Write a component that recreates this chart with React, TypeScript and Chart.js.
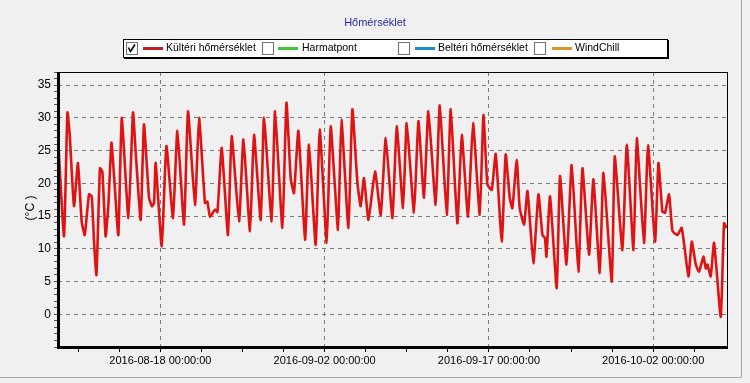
import React, { useEffect, useRef } from "react";
import { Chart, registerables } from "chart.js";

Chart.register(...registerables);

// Time of each reading, in days since 2016-08-18 00:00:00
const dayOffsets = [
  -9.30, -8.80, -8.49, -8.28, -7.89, -7.53, -7.19, -6.91, -6.52, -6.27,
  -6.06, -5.84, -5.52, -5.30, -5.00, -4.75, -4.47, -4.24, -3.84, -3.53,
  -2.92, -2.50, -2.26, -1.80, -1.50, -1.04, -0.77, -0.58, -0.43, 0.12,
  0.55, 1.15, 1.55, 2.16, 2.52, 3.16, 3.53, 4.07, 4.29, 4.53,
  4.99, 5.21, 5.60, 6.17, 6.51, 7.18, 7.58, 8.18, 8.55, 9.16,
  9.46, 10.16, 10.47, 11.14, 11.51, 11.90, 12.20, 12.60, 13.21, 13.57,
  14.18, 14.55, 15.19, 15.55, 16.22, 16.53, 17.17, 17.53, 17.99, 18.29,
  18.59, 19.00, 19.60, 20.12, 20.58, 21.19, 21.58, 22.16, 22.49, 23.16,
  23.56, 24.07, 24.47, 25.14, 25.51, 26.15, 26.51, 27.12, 27.52, 28.09,
  28.55, 29.16, 29.50, 29.86, 30.26, 30.62, 31.17, 31.53, 31.90, 32.14,
  32.54, 32.81, 33.21, 33.52, 34.06, 34.52, 34.89, 35.12, 35.25, 35.58,
  36.19, 36.49, 37.08, 37.56, 38.17, 38.54, 39.14, 39.54, 40.12, 40.46,
  41.22, 41.49, 42.19, 42.59, 43.20, 43.50, 44.16, 44.53, 45.17, 45.48,
  45.84, 46.08, 46.45, 46.76, 47.21, 47.61, 48.22, 48.52, 48.89, 49.19,
  49.59, 49.80, 49.95, 50.25, 50.56, 51.17, 51.47, 51.69,
];

// Outdoor temperature (°C)
const outdoorTemps = [
  25.4, 11.9, 30.8, 27.4, 16.5, 23.1, 14.2, 12.1, 18.3, 18.0,
  11.1, 6.0, 22.3, 21.8, 11.9, 16.7, 26.2, 21.3, 12.1, 30.0,
  14.7, 30.8, 24.9, 14.4, 29.0, 17.8, 16.5, 17.0, 23.1, 10.4,
  25.7, 14.7, 28.0, 13.7, 31.0, 16.7, 30.0, 17.0, 17.2, 14.9,
  16.0, 15.6, 25.4, 12.1, 27.2, 14.2, 26.7, 12.7, 27.4, 14.4,
  30.0, 14.2, 31.0, 13.2, 32.3, 20.8, 18.5, 28.0, 11.4, 25.9,
  10.6, 28.2, 10.9, 28.7, 12.9, 29.7, 13.2, 31.3, 20.1, 16.5,
  20.8, 14.4, 21.8, 15.2, 26.9, 14.7, 28.7, 16.2, 29.2, 15.5,
  29.5, 17.8, 31.0, 16.7, 31.9, 15.2, 31.3, 13.9, 27.4, 14.9,
  29.2, 15.2, 30.4, 19.8, 19.0, 24.5, 11.1, 24.4, 17.8, 16.2,
  23.6, 16.2, 13.7, 18.8, 7.8, 18.3, 12.1, 11.6, 8.8, 18.0,
  4.0, 21.1, 7.6, 22.8, 6.5, 22.3, 9.1, 20.6, 6.3, 21.6,
  5.0, 24.1, 9.8, 25.9, 9.8, 26.9, 10.9, 25.8, 11.1, 23.1,
  15.7, 15.5, 18.3, 12.7, 12.1, 13.2, 5.8, 11.1, 7.6, 6.5,
  8.8, 7.0, 7.6, 5.8, 10.9, -0.4, 13.9, 13.2,
];

const chartTitle = "Hőmérséklet";
const yAxisTitle = "(°C )";
const legendLabels = ["Kültéri hőmérséklet", "Harmatpont", "Beltéri hőmérséklet", "WindChill"];
const legendColors = ["#c41e1e", "#3cc83c", "#1e8cc8", "#d8962a"];
const legendChecked = [true, false, false, false];

const baseDateUTC = Date.UTC(2016, 7, 18);
const xMin = -9.35;
const xMax = 51.74;
const xMinorStep = 3.75;
const xMajorStep = 15;
const yMin = -5;
const yMax = 37;
const yLabelMin = 0;
const yLabelMax = 35;
const yMajorStep = 5;

const FONT = "'Liberation Sans', Arial, sans-serif";

function pad(n: number) {
  return n < 10 ? "0" + n : "" + n;
}
function fmtDate(dayOff: number) {
  const d = new Date(baseDateUTC + Math.round(dayOff * 86400000));
  return (
    d.getUTCFullYear() + "-" + pad(d.getUTCMonth() + 1) + "-" + pad(d.getUTCDate()) +
    " " + pad(d.getUTCHours()) + ":" + pad(d.getUTCMinutes()) + ":" + pad(d.getUTCSeconds())
  );
}
function isXMajor(v: number) {
  return Math.abs(v / xMajorStep - Math.round(v / xMajorStep)) < 1e-6;
}
function isYMajor(v: number) {
  return v % yMajorStep === 0 && v >= yLabelMin && v <= yLabelMax;
}

const decorPlugin = {
  id: "decor",
  beforeDraw(chart: any) {
    const ctx = chart.ctx;
    ctx.save();
    ctx.fillStyle = "#f0f0f0";
    ctx.fillRect(0, 0, chart.width, chart.height);
    ctx.strokeStyle = "#a8a8a8";
    ctx.lineWidth = 1;
    ctx.beginPath();
    ctx.moveTo(741.5, 0);
    ctx.lineTo(741.5, 377.5);
    ctx.lineTo(0, 377.5);
    ctx.stroke();
    ctx.restore();
  },
  afterDraw(chart: any) {
    const ctx = chart.ctx;
    const a = chart.chartArea;
    ctx.save();
    // plot frame
    ctx.strokeStyle = "#000";
    ctx.lineWidth = 1;
    ctx.strokeRect(a.left + 0.5, a.top + 0.5, a.right - a.left, a.bottom - a.top);
    ctx.fillStyle = "#000";
    ctx.fillRect(a.left - 1, a.top, 3, a.bottom - a.top + 2);
    ctx.fillRect(a.left - 1, a.bottom - 1, a.right - a.left + 2, 3);

    // title
    ctx.fillStyle = "#2828b4";
    ctx.font = "11px " + FONT;
    ctx.textAlign = "center";
    ctx.textBaseline = "middle";
    ctx.fillText(chartTitle, 375, 23);

    // y axis title
    ctx.save();
    ctx.translate(31, 208);
    ctx.rotate(-Math.PI / 2);
    ctx.fillStyle = "#000";
    ctx.font = "12px " + FONT;
    ctx.fillText(yAxisTitle, 0, 0);
    ctx.restore();

    // legend box
    const bx = 123, by = 39, bw = 544, bh = 18;
    ctx.fillStyle = "#fff";
    ctx.fillRect(bx, by, bw, bh);
    ctx.strokeStyle = "#000";
    ctx.lineWidth = 1;
    ctx.strokeRect(bx + 0.5, by + 0.5, bw, bh);
    ctx.fillStyle = "#000";
    ctx.fillRect(bx + bw, by + 1, 2, bh + 1);
    ctx.fillRect(bx + 1, by + bh, bw + 1, 2);

    const boxX = [126, 262, 398, 534];
    const lineX = [143, 278, 415, 552];
    const textX = [166, 302, 438, 575];
    const cy = 48.5;
    ctx.font = "10.5px " + FONT;
    ctx.textAlign = "left";
    ctx.textBaseline = "middle";
    for (let i = 0; i < legendLabels.length; i++) {
      ctx.fillStyle = "#fff";
      ctx.fillRect(boxX[i], 42, 11, 12);
      ctx.strokeStyle = "#707070";
      ctx.lineWidth = 1;
      ctx.strokeRect(boxX[i] + 0.5, 42.5, 11, 12);
      if (legendChecked[i]) {
        ctx.strokeStyle = "#000";
        ctx.lineWidth = 1.6;
        ctx.beginPath();
        ctx.moveTo(boxX[i] + 2.5, 47.5);
        ctx.lineTo(boxX[i] + 4.5, 51.5);
        ctx.lineTo(boxX[i] + 9, 44.5);
        ctx.stroke();
      }
      ctx.strokeStyle = legendColors[i];
      ctx.lineWidth = 3;
      ctx.beginPath();
      ctx.moveTo(lineX[i], cy);
      ctx.lineTo(lineX[i] + 20, cy);
      ctx.stroke();
      ctx.fillStyle = "#000";
      ctx.fillText(legendLabels[i], textX[i], cy);
    }
    ctx.restore();
  },
};

export default function App() {
  const ref = useRef<HTMLCanvasElement>(null);
  useEffect(() => {
    const points = dayOffsets.map((d, i) => ({ x: d, y: outdoorTemps[i] }));
    const chart = new Chart(ref.current as HTMLCanvasElement, {
      type: "line",
      data: {
        datasets: [
          {
            label: legendLabels[0],
            data: points,
            borderColor: "#de1414",
            borderWidth: 2.6,
            pointRadius: 0,
            tension: 0.15,
            fill: false,
          },
        ],
      },
      options: {
        animation: false,
        responsive: false,
        devicePixelRatio: 1,
        layout: { padding: { top: 72, right: 23, left: 0, bottom: 0 } },
        plugins: {
          legend: { display: false },
          title: { display: false },
          tooltip: { enabled: false },
        },
        scales: {
          x: {
            type: "linear",
            min: xMin,
            max: xMax,
            afterFit(scale: any) {
              scale.height = 36;
            },
            afterBuildTicks(scale: any) {
              const ticks = [];
              const start = Math.ceil(xMin / xMinorStep) * xMinorStep;
              for (let v = start; v <= xMax + 1e-9; v += xMinorStep) ticks.push({ value: +v.toFixed(4) });
              scale.ticks = ticks;
            },
            ticks: {
              autoSkip: false,
              maxRotation: 0,
              minRotation: 0,
              padding: 2,
              color: "#000",
              font: { family: FONT, size: 11 },
              callback: (v: any) => (isXMajor(Number(v)) ? fmtDate(Number(v)) : ""),
            },
            grid: {
              color: (c: any) => (c.tick && isXMajor(c.tick.value) ? "#7a7a7a" : "rgba(0,0,0,0)"),
              lineWidth: 1,
              tickColor: "#000",
              tickLength: 5,
              tickBorderDash: [],
            },
            border: { display: false, dash: [4, 4] },
          },
          y: {
            type: "linear",
            min: yMin,
            max: yMax,
            afterFit(scale: any) {
              scale.width = 58;
            },
            afterBuildTicks(scale: any) {
              const ticks = [];
              for (let v = yMin; v <= yMax; v += 1) ticks.push({ value: v });
              scale.ticks = ticks;
            },
            ticks: {
              autoSkip: false,
              padding: 3,
              color: "#000",
              font: { family: FONT, size: 12 },
              callback: (v: any) => (isYMajor(Number(v)) ? String(v) : ""),
            },
            grid: {
              color: (c: any) => (c.tick && isYMajor(c.tick.value) ? "#7a7a7a" : "rgba(0,0,0,0)"),
              lineWidth: 1,
              tickColor: "#555",
              tickLength: 4,
              tickBorderDash: [],
            },
            border: { display: false, dash: [4, 4] },
          },
        },
      },
      plugins: [decorPlugin],
    } as any);
    return () => chart.destroy();
  }, []);
  return (
    <div style={{ position: "fixed", left: 0, top: 0, width: 750, height: 383, background: "#f0f0f0" }}>
      <canvas ref={ref} width={750} height={383} style={{ display: "block", width: 750, height: 383 }} />
    </div>
  );
}
